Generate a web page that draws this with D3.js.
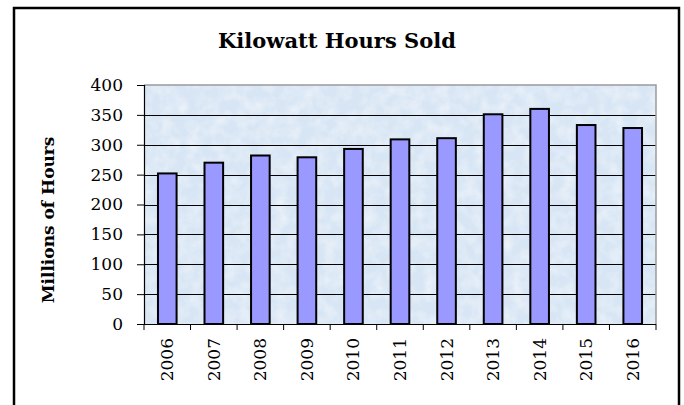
<!DOCTYPE html>
<html>
<head>
<meta charset="utf-8">
<script src="https://cdn.jsdelivr.net/npm/d3@7"></script>
<style>
  body { margin: 0; background: #fff; }
</style>
</head>
<body>
<svg id="chart"></svg>
<script>
// data
const years = ["2006", "2007", "2008", "2009", "2010", "2011", "2012", "2013", "2014", "2015", "2016"];
const hoursSold = [252, 270, 282, 279, 293, 309, 311, 351, 360, 333, 328];
const yTicks = [0, 50, 100, 150, 200, 250, 300, 350, 400];

// svg size
const width = 684;
const height = 405;

const svg = d3.select("#chart")
    .attr("width", width)
    .attr("height", height);

// plot area
const plot = { left: 144, right: 656, top: 85, bottom: 324 };

const x = d3.scaleBand()
    .domain(years)
    .range([plot.left, plot.right])
    .paddingInner(0.6)
    .paddingOuter(0.3);

const xTickScale = d3.scalePoint()
    .domain(d3.range(years.length + 1))
    .range([plot.left, plot.right]);

const y = d3.scaleLinear()
    .domain([0, 400])
    .range([plot.bottom, plot.top]);

const serif = "'DejaVu Serif', serif";

// outer frame (no bottom edge)
svg.append("path")
    .attr("d", "M14,406 L14,8 L679,8 L679,406")
    .attr("fill", "none")
    .attr("stroke", "#000")
    .attr("stroke-width", 2.5);

// texture for plot background
const defs = svg.append("defs");
const filter = defs.append("filter").attr("id", "mottle")
    .attr("x", 0).attr("y", 0).attr("width", 1).attr("height", 1);
filter.append("feTurbulence")
    .attr("type", "fractalNoise")
    .attr("baseFrequency", 0.08)
    .attr("numOctaves", 3)
    .attr("seed", 4);
filter.append("feColorMatrix")
    .attr("type", "matrix")
    .attr("values", "0 0 0 0 1  0 0 0 0 1  0 0 0 0 1  0 0 0 -1.6 1.05");
filter.append("feComposite").attr("in2", "SourceGraphic").attr("operator", "in");

svg.append("rect")
    .attr("x", plot.left)
    .attr("y", plot.top)
    .attr("width", plot.right - plot.left)
    .attr("height", plot.bottom - plot.top)
    .attr("fill", "#d7e5f4");

svg.append("rect")
    .attr("x", plot.left)
    .attr("y", plot.top)
    .attr("width", plot.right - plot.left)
    .attr("height", plot.bottom - plot.top)
    .attr("fill", "#fff")
    .attr("opacity", 0.55)
    .attr("filter", "url(#mottle)");

// gridlines
svg.append("g")
    .selectAll("line")
    .data(yTicks.filter(d => d > 0 && d < 400))
    .enter()
    .append("line")
    .attr("x1", plot.left)
    .attr("x2", plot.right)
    .attr("y1", d => Math.round(y(d)) + 0.5)
    .attr("y2", d => Math.round(y(d)) + 0.5)
    .attr("stroke", "#000")
    .attr("stroke-width", 1);

// plot border (gray)
svg.append("path")
    .attr("d", `M${plot.left},${plot.top} H${plot.right} V${plot.bottom}`)
    .attr("fill", "none")
    .attr("stroke", "#9a9a9a")
    .attr("stroke-width", 1.5);

// bars
svg.append("g")
    .selectAll("rect")
    .data(hoursSold)
    .enter()
    .append("rect")
    .attr("x", (d, i) => x(years[i]))
    .attr("y", d => y(d))
    .attr("width", x.bandwidth())
    .attr("height", d => y(0) - y(d))
    .attr("fill", "#9999ff")
    .attr("stroke", "#000")
    .attr("stroke-width", 2);

// y axis
const yAxis = svg.append("g")
    .attr("transform", `translate(${plot.left},0)`)
    .call(d3.axisLeft(y).tickValues(yTicks).tickSize(7).tickPadding(14));
yAxis.select(".domain").attr("stroke", "#000").attr("stroke-width", 1.2);
yAxis.selectAll(".tick line").attr("stroke", "#000");
yAxis.selectAll("text")
    .attr("font-family", serif)
    .attr("font-size", 17)
    .attr("fill", "#000");

// x axis line and ticks
svg.append("line")
    .attr("x1", plot.left)
    .attr("x2", plot.right)
    .attr("y1", plot.bottom + 0.5)
    .attr("y2", plot.bottom + 0.5)
    .attr("stroke", "#000")
    .attr("stroke-width", 1.2);

svg.append("g")
    .selectAll("line")
    .data(xTickScale.domain())
    .enter()
    .append("line")
    .attr("x1", d => xTickScale(d))
    .attr("x2", d => xTickScale(d))
    .attr("y1", plot.bottom)
    .attr("y2", plot.bottom + 6)
    .attr("stroke", "#000");

// year labels, rotated
svg.append("g")
    .selectAll("text")
    .data(years)
    .enter()
    .append("text")
    .attr("transform", d => `translate(${x(d) + x.bandwidth() / 2 + 6}, 338) rotate(-90)`)
    .attr("text-anchor", "end")
    .attr("font-family", serif)
    .attr("font-size", 17)
    .text(d => d);

// title
svg.append("text")
    .attr("x", 337)
    .attr("y", 48)
    .attr("text-anchor", "middle")
    .attr("font-family", serif)
    .attr("font-weight", "bold")
    .attr("font-size", 21)
    .text("Kilowatt Hours Sold");

// y axis title
svg.append("text")
    .attr("transform", "translate(54, 220) rotate(-90)")
    .attr("text-anchor", "middle")
    .attr("font-family", serif)
    .attr("font-weight", "bold")
    .attr("font-size", 17)
    .text("Millions of Hours");
</script>
</body>
</html>
